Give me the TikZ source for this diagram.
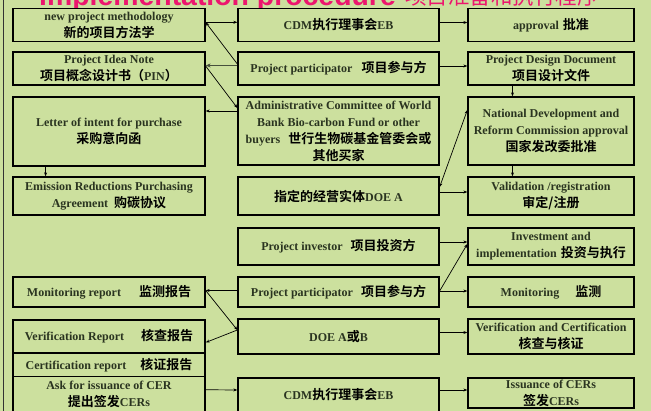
\documentclass[tikz,border=0pt]{standalone}
\usepackage{fontspec}
\setmainfont{Liberation Serif}
\newfontfamily\cjk{Noto Sans CJK SC}[BoldFont={* Bold}]
\newfontfamily\titlesans{Liberation Sans}
\usetikzlibrary{arrows.meta}
\definecolor{bg}{RGB}{204,224,158}
\definecolor{txt}{RGB}{42,52,32}
\definecolor{ttl}{RGB}{236,22,110}
\newcommand\zh[1]{{\cjk\fontsize{13}{17}\selectfont\color{black}#1}}
\begin{document}
\begin{tikzpicture}[x=1pt,y=-1pt,
  box/.style={draw=black,line width=1.3pt,fill=bg,inner sep=0pt,align=center,
    font=\fontsize{12}{17}\selectfont\bfseries,text=txt},
  colL/.style={box,minimum width=192pt},
  colM/.style={box,minimum width=201pt},
  colR/.style={box,minimum width=166pt},
  arr/.style={draw=black,line width=0.7pt,-{Stealth[length=4pt,width=3pt]}},
  arrb/.style={draw=black,line width=0.7pt,{Stealth[length=4pt,width=3pt]}-{Stealth[length=4pt,width=3pt]}},
  thickarr/.style={draw={rgb,255:red,70;green,80;blue,60},line width=1.8pt,-{Stealth[length=5pt,width=4pt]}}
]
\path[use as bounding box] (0,0) rectangle (651,411);
\clip (0,0) rectangle (651,411);
\fill[bg] (0,0) rectangle (651,411);
\draw[line width=1pt,black!80] (3,0) -- (3,411);

% title
\node[anchor=base west,inner sep=0pt,text=ttl,font=\titlesans\bfseries\fontsize{28.4}{30}\selectfont] (t1) at (39,5.5) {implementation procedure};
\node[anchor=base west,inner sep=0pt,text=ttl,font=\cjk\fontsize{21.5}{24}\selectfont] (t2) at (405,4.5) {项目准备和执行程序};

% row A
\node[colL,minimum height=33pt] (nm) at (109,25) {new project methodology\\\zh{新的项目方法学}};
\node[colM,minimum height=33pt] (eb1) at (338.5,25) {CDM\zh{执行理事会}EB};
\node[colR,minimum height=33pt] (appr) at (551,25) {approval\hspace{4pt}\zh{批准}};
% row B
\node[colL,minimum height=33pt] (pin) at (109,68.5) {Project Idea Note\\\zh{项目概念设计书（}PIN\zh{）}};
\node[colM,minimum height=33pt] (pp1) at (338.5,68.5) {Project participator\hspace{9pt}\zh{项目参与方}};
\node[colR,minimum height=33pt] (pdd) at (551,68.5) {Project Design Document\\\zh{项目设计文件}};
% row C
\node[colL,minimum height=69pt] (letter) at (109,131.5) {Letter of intent for purchase\\\zh{采购意向函}};
\node[colM,minimum height=68pt] (admin) at (338.5,131) {Administrative Committee of World\\Bank Bio-carbon Fund or other\\buyers\hspace{8pt}\zh{世行生物碳基金管委会或}\\\zh{其他买家}};
\node[colR,minimum height=68pt] (ndrc) at (551,131) {National Development and\\Reform Commission approval\\\zh{国家发改委批准}};
% row D
\node[colL,minimum height=38pt] (erpa) at (109,196) {Emission Reductions Purchasing\\Agreement\hspace{6pt}\zh{购碳协议}};
\node[colM,minimum height=38pt] (doea) at (338.5,196) {\zh{指定的经营实体}DOE A};
\node[colR,minimum height=38pt] (val) at (551,196) {Validation /registration\\\zh{审定/注册}};
% row E
\node[colM,minimum height=37pt] (invr) at (338.5,246.5) {Project investor\hspace{8pt}\zh{项目投资方}};
\node[colR,minimum height=37pt] (inv) at (551,246.5) {Investment and\\implementation\hspace{4pt}\zh{投资与执行}};
% row F
\node[colL,minimum height=30pt] (mr) at (109,292) {Monitoring report\hspace{18pt}\zh{监测报告}};
\node[colM,minimum height=30pt] (pp2) at (338.5,292) {Project participator\hspace{8pt}\zh{项目参与方}};
\node[colR,minimum height=30pt] (mon) at (551,292) {Monitoring\hspace{16pt}\zh{监测}};
% row G
\node[colL,minimum height=33pt] (vr) at (109,336.5) {Verification Report\hspace{17pt}\zh{核查报告}};
\node[colL,minimum height=23pt] (cr) at (109,364.75) {Certification report\hspace{14pt}\zh{核证报告}};
\node[colM,minimum height=35pt] (doeab) at (338.5,336.5) {DOE A\zh{或}B};
\node[colR,minimum height=35pt] (vc) at (551,336.5) {Verification and Certification\\\zh{核查与核证}};
% row H
\node[colL,minimum height=36.5pt] (ask) at (109,394.75) {Ask for issuance of CER\\\zh{提出签发}CERs};
\node[colM,minimum height=34pt] (eb2) at (338.5,395) {CDM\zh{执行理事会}EB};
\node[colR,minimum height=30pt] (iss) at (551,393) {Issuance of CERs\\\zh{签发}CERs};

% connectors
\draw[arr] ([yshift=2.7pt]nm.east) -- ([yshift=2.7pt]eb1.west);
\draw[arr] ([yshift=4.5pt]pp1.west) -- ([yshift=2.7pt]nm.east);
\draw[thickarr] ([yshift=3pt]pp1.west) -- ([yshift=3pt]pin.east);
\draw[arr] ([yshift=2.5pt]pin.east) -- ([yshift=23pt]admin.west);
\draw[arr] ([yshift=20pt]admin.west) -- ([yshift=20.5pt]letter.east);
\draw[arr] ([xshift=-63.4pt]letter.south) -- ([xshift=-63.4pt]erpa.north);
\draw[arr] ([yshift=2.5pt]eb1.east) -- ([yshift=2.5pt]appr.west);
\draw[arr] ([yshift=2.5pt]pp1.east) -- ([yshift=2.5pt]pdd.west);
\draw[arr] ([xshift=-38.5pt]pdd.south) -- ([xshift=-38.5pt]ndrc.north);
\draw[arrb] ([yshift=21pt]ndrc.west) -- ([yshift=9pt]doea.east);
\draw[arr] ([xshift=-38.5pt]ndrc.south) -- ([xshift=-38.5pt]val.north);
\draw[arr] ([yshift=4pt]doea.east) -- ([yshift=4pt]val.west);
\draw[arr] ([yshift=4.5pt]invr.east) -- ([yshift=4.5pt]inv.west);
\draw[arr] ([yshift=1pt]pp2.east) -- ([yshift=2.5pt]inv.west);
\draw[arr] ([yshift=1pt]pp2.east) -- ([yshift=1pt]mon.west);
\draw[arr] ([yshift=1.5pt]pp2.west) -- ([yshift=1.5pt]mr.east);
\draw[arr] ([yshift=1.5pt]mr.east) -- ([yshift=6.5pt]doeab.west);
\draw[arr] ([yshift=6.5pt]doeab.west) -- ([yshift=-6pt]vr.east);
\draw[arr] ([yshift=4pt]doeab.east) -- ([yshift=4pt]vc.west);
\draw[arr] ([yshift=5pt]ask.east) -- ([yshift=5pt]eb2.west);
\draw[arr] ([yshift=5pt]eb2.east) -- ([yshift=3pt]iss.west);
\end{tikzpicture}
\end{document}
